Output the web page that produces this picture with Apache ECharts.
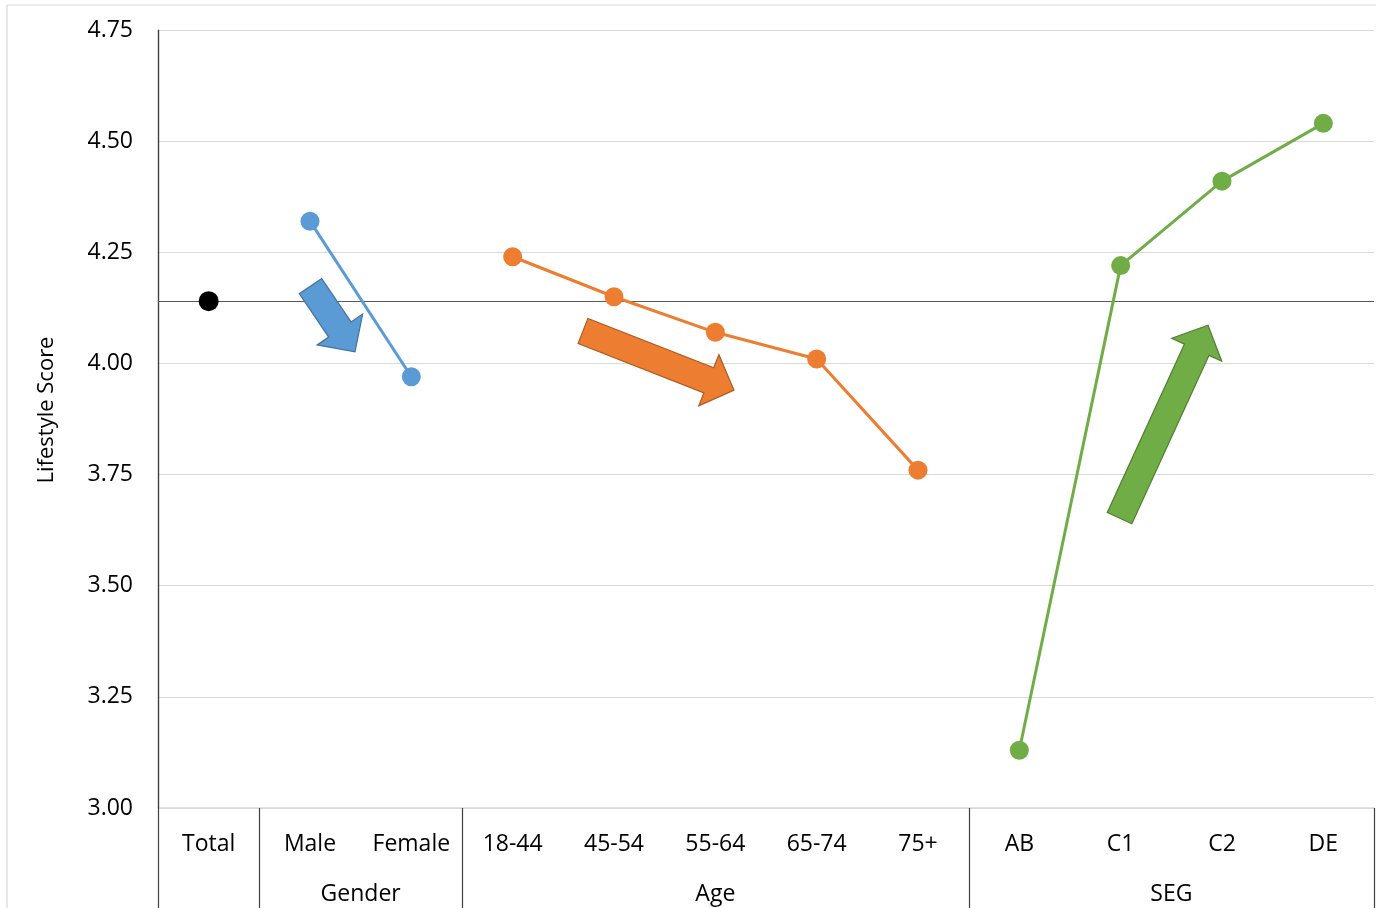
<!DOCTYPE html>
<html>
<head>
<meta charset="utf-8">
<style>
  html, body { margin: 0; padding: 0; background: #fff; }
  #chart { width: 1376px; height: 908px; }
</style>
<script src="https://cdn.jsdelivr.net/npm/echarts@6/dist/echarts.min.js"></script>
</head>
<body>
<div id="chart"></div>
<script>
// Categories along the x axis, in display order
const categories = ['Total', 'Male', 'Female', '18-44', '45-54', '55-64', '65-74', '75+', 'AB', 'C1', 'C2', 'DE'];

// Grouping of the categories (second label row)
const groupNames = ['', 'Gender', 'Age', 'SEG'];
const groupStart = [0, 1, 3, 8];
const groupEnd   = [0, 2, 7, 11];

// Lifestyle scores per group
const totalScores  = [4.14];
const genderScores = [4.32, 3.97];
const ageScores    = [4.24, 4.15, 4.07, 4.01, 3.76];
const segScores    = [3.13, 4.22, 4.41, 4.54];

// Y axis ticks
const yMin = 3.0;
const yMax = 4.75;
const yStep = 0.25;

const FONT = 'Open Sans';
const LABEL_SIZE = 23;
const colors = ['#000000', '#5b9bd5', '#ed7d31', '#70ad47'];
const arrowStroke = ['#000000', '#41719c', '#ae5a21', '#507e32'];

function padded(values, start) {
  const out = categories.map(() => null);
  values.forEach((v, i) => { out[start + i] = v; });
  return out;
}

const groupScores = [totalScores, genderScores, ageScores, segScores];

const series = groupScores.map((vals, g) => ({
  type: 'line',
  name: groupNames[g] || 'Total',
  data: padded(vals, groupStart[g]),
  symbol: 'circle',
  symbolSize: g === 0 ? 20 : 19,
  showSymbol: true,
  connectNulls: false,
  lineStyle: { color: colors[g], width: 3 },
  itemStyle: { color: colors[g] },
  z: 5,
  animation: false
}));

// Horizontal reference line at the overall score
series[0].markLine = {
  silent: true,
  symbol: 'none',
  label: { show: false },
  lineStyle: { color: '#595959', width: 1.2, type: 'solid' },
  data: [{ yAxis: totalScores[0] }],
  animation: false
};

const chart = echarts.init(document.getElementById('chart'), null, { renderer: 'canvas' });

chart.setOption({
  animation: false,
  backgroundColor: '#ffffff',
  grid: { left: 158, right: 2, top: 30, bottom: 100, containLabel: false },
  xAxis: {
    type: 'category',
    data: categories,
    boundaryGap: true,
    axisLine: { show: true, lineStyle: { color: '#d9d9d9', width: 1.5 } },
    axisTick: { show: false },
    axisLabel: {
      interval: 0,
      margin: 25,
      fontFamily: FONT,
      fontSize: LABEL_SIZE,
      color: '#000'
    },
    splitLine: { show: false }
  },
  yAxis: {
    type: 'value',
    min: yMin,
    max: yMax,
    interval: yStep,
    axisLine: { show: true, lineStyle: { color: '#404040', width: 1.2 } },
    axisTick: { show: false },
    axisLabel: {
      margin: 25,
      fontFamily: FONT,
      fontSize: LABEL_SIZE,
      color: '#000',
      formatter: v => v.toFixed(2)
    },
    splitLine: { show: true, lineStyle: { color: '#d9d9d9', width: 1.2 } }
  },
  series: series
});

// ---- decorations placed through the chart's own scales ----
function px(idx, val) {
  // fractional category index -> pixel, interpolating between neighbouring bands
  const i0 = Math.floor(idx);
  const a = chart.convertToPixel({ gridIndex: 0 }, [i0, val]);
  const b = chart.convertToPixel({ gridIndex: 0 }, [i0 + 1, val]);
  const t = idx - i0;
  return [a[0] + (b[0] - a[0]) * t, a[1]];
}

const base = chart.convertToPixel({ gridIndex: 0 }, [0, yMin]);
const bottomY = base[1];
const topY = chart.convertToPixel({ gridIndex: 0 }, [0, yMax])[1];
const canvasH = chart.getHeight();
const canvasW = chart.getWidth();

const graphics = [];

// outer chart-area border
graphics.push({
  type: 'rect',
  shape: { x: 7, y: 5, width: canvasW, height: canvasH },
  style: { fill: 'none', stroke: '#d9d9d9', lineWidth: 1.2 },
  silent: true,
  z: 0
});

// y axis title
graphics.push({
  type: 'text',
  x: 47,
  y: (topY + bottomY) / 2 - 9,
  rotation: Math.PI / 2,
  style: {
    text: 'Lifestyle Score',
    fontFamily: FONT,
    fontSize: 22,
    fill: '#000',
    align: 'center',
    verticalAlign: 'middle'
  },
  silent: true,
  z: 3
});

// vertical separators between category groups in the label area
const bandW = px(1, yMin)[0] - px(0, yMin)[0];
const boundaries = [-0.5];
groupEnd.forEach(e => boundaries.push(e + 0.5));
boundaries.forEach(b => {
  const x = px(0, yMin)[0] + (b + 0) * bandW;
  const top = b === -0.5 ? topY : bottomY;
  graphics.push({
    type: 'line',
    shape: { x1: Math.round(x) + 0.5, y1: top, x2: Math.round(x) + 0.5, y2: canvasH },
    style: { stroke: '#404040', lineWidth: 1.2 },
    silent: true,
    z: 3
  });
});

// group names (second label row)
groupNames.forEach((name, g) => {
  if (!name) return;
  const cx = px((groupStart[g] + groupEnd[g]) / 2, yMin)[0];
  graphics.push({
    type: 'text',
    x: cx,
    y: bottomY + 86,
    style: {
      text: name,
      fontFamily: FONT,
      fontSize: LABEL_SIZE,
      fill: '#000',
      align: 'center',
      verticalAlign: 'middle'
    },
    silent: true,
    z: 3
  });
});

// block arrows showing the trend within each group (tail -> tip, in data units)
const trendArrows = [
  { group: 1, tail: [1.005, 4.174], tip: [1.444, 4.026] },
  { group: 2, tail: [3.694, 4.073], tip: [5.184, 3.940] },
  { group: 3, tail: [8.989, 3.652], tip: [9.862, 4.086] }
];
const SHAFT = 27, HEAD_W = 55, HEAD_L = 27;

trendArrows.forEach(a => {
  const T = px(a.tail[0], a.tail[1]);
  const P = px(a.tip[0], a.tip[1]);
  const dx = P[0] - T[0], dy = P[1] - T[1];
  const L = Math.hypot(dx, dy);
  const ux = dx / L, uy = dy / L;
  const nx = -uy, ny = ux;
  const B = [P[0] - ux * HEAD_L, P[1] - uy * HEAD_L];
  const s = SHAFT / 2, h = HEAD_W / 2;
  const pts = [
    [T[0] + nx * s, T[1] + ny * s],
    [B[0] + nx * s, B[1] + ny * s],
    [B[0] + nx * h, B[1] + ny * h],
    [P[0], P[1]],
    [B[0] - nx * h, B[1] - ny * h],
    [B[0] - nx * s, B[1] - ny * s],
    [T[0] - nx * s, T[1] - ny * s]
  ];
  graphics.push({
    type: 'polygon',
    shape: { points: pts },
    style: { fill: colors[a.group], stroke: arrowStroke[a.group], lineWidth: 1.2 },
    silent: true,
    z: 10
  });
});

chart.setOption({ graphic: graphics });
</script>
</body>
</html>
